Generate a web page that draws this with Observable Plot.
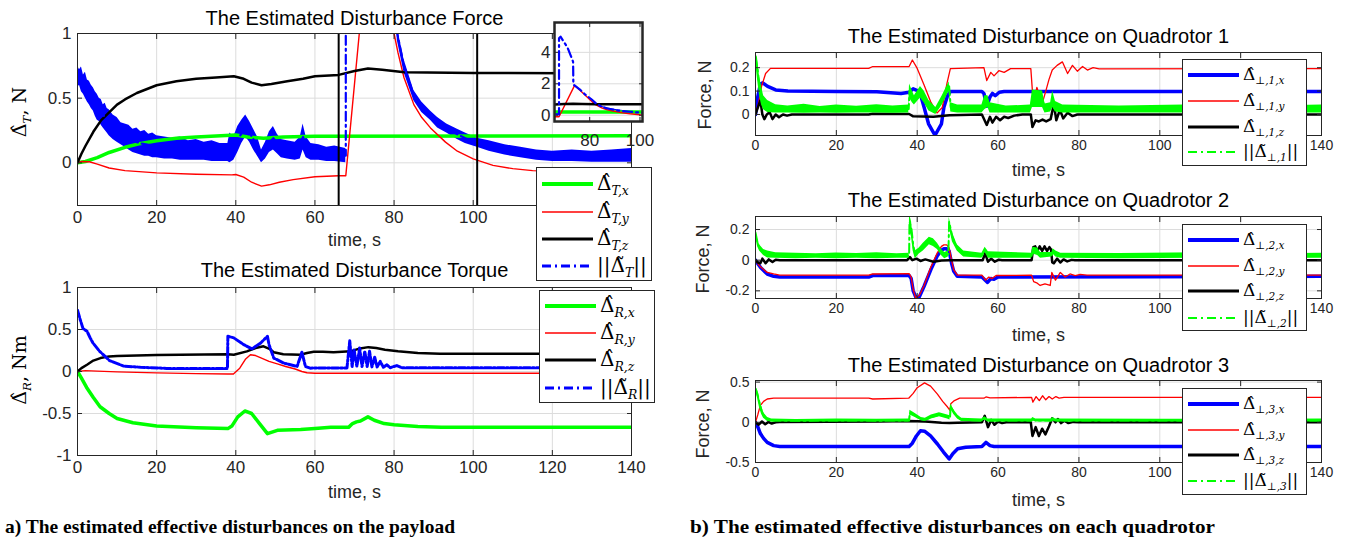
<!DOCTYPE html>
<html>
<head>
<meta charset="utf-8">
<script src="https://cdn.jsdelivr.net/npm/d3@7"></script>
<script src="https://cdn.jsdelivr.net/npm/@observablehq/plot@0.6"></script>
<style>
  body { margin: 0; background: #fff; }
  #fig { position: relative; width: 1352px; height: 544px; overflow: hidden; background: #fff; font-family: "Liberation Sans", Arial, sans-serif; }
  .panel { position: absolute; }
  .legend { position: absolute; background: #fff; border: 1px solid #262626; box-sizing: border-box; }
  .swatch { position: absolute; overflow: visible; }
  .math { position: absolute; font-family: "DejaVu Serif", "Liberation Serif", serif; white-space: nowrap; line-height: 1; transform: translateY(-50%); color: #000; }
  .math sub, .ylab sub { font-style: italic; font-size: 0.62em; vertical-align: -0.4em; }
  .ylab { position: absolute; white-space: nowrap; transform: translate(-50%, -50%) rotate(-90deg); color: #262626; line-height: 1; }
</style>
</head>
<body>
<div id="fig"></div>
<script>
// ---------- time axis ticks ----------
const timeTicks = [0, 20, 40, 60, 80, 100, 120, 140];

// ---------- (a) disturbance force on the payload, [t, value] ----------
const forceX = [[0,0],[2,0.01],[5,0.04],[8,0.08],[12,0.12],[16,0.15],[20,0.17],[25,0.19],[30,0.2],[40,0.215],[43,0.2],[47,0.19],[52,0.2],[60,0.205],[140,0.21]];
const forceY = [[0,0],[1,0.01],[3,0.008],[5,-0.01],[8,-0.04],[12,-0.06],[20,-0.078],[30,-0.088],[39,-0.093],[40,-0.09],[42,-0.11],[44,-0.15],[46.5,-0.18],[48.5,-0.17],[51,-0.15],[54.5,-0.13],[60,-0.108],[66,-0.1],[67.8,-0.1],[74,1.9],[76,1.6],[78,1.3],[80,1.0],[81,0.85],[82.5,0.66],[85,0.45],[87,0.35],[89.2,0.27],[93,0.16],[96,0.09],[100,0.03],[105,-0.02],[110,-0.045],[115,-0.06],[125,-0.07],[140,-0.07]];
const forceZ = [[0,0],[1,0.07],[2,0.13],[4,0.24],[6,0.33],[8,0.39],[10,0.45],[12,0.49],[15,0.54],[20,0.6],[25,0.63],[30,0.65],[35,0.66],[39.5,0.67],[42,0.65],[44,0.62],[46.5,0.6],[49,0.61],[53,0.63],[57,0.65],[60,0.67],[66,0.68],[70,0.71],[73.4,0.73],[77,0.72],[82.6,0.7],[100,0.695],[140,0.69]];
const forceNorm = [[0,0.66],[1,0.64],[2,0.6],[3,0.54],[4,0.49],[5,0.43],[6,0.39],[7,0.35],[8,0.31],[9,0.28],[10,0.25],[12,0.21],[14,0.17],[16,0.15],[18,0.14],[20,0.125],[24,0.11],[28,0.095],[32,0.09],[36,0.08],[38,0.08],[40.5,0.18],[42.5,0.28],[44.5,0.18],[46.5,0.05],[48.5,0.16],[49.5,0.19],[51.5,0.11],[55,0.09],[57,0.2],[59,0.085],[63,0.065],[67.8,0.055],[67.8,4.9],[68.4,5.0],[71.2,4.3],[73.4,3.4],[73.5,1.95],[76,1.65],[78,1.35],[80.8,1.0],[82.5,0.75],[85,0.52],[87,0.43],[89.2,0.365],[91,0.31],[93.3,0.265],[96,0.22],[98,0.19],[101,0.155],[104,0.13],[108,0.1],[112,0.08],[116,0.06],[120,0.05],[130,0.05],[140,0.055]];
// noisy envelope of the force error norm, [t, low, high]
const forceNormBand = [[0,0.58,0.75],[0.5,0.6,0.72],[1,0.55,0.74],[1.5,0.53,0.68],[2,0.5,0.7],[2.5,0.47,0.64],[3,0.45,0.63],[3.5,0.42,0.6],[4,0.4,0.58],[4.5,0.36,0.55],[5,0.33,0.53],[5.5,0.32,0.5],[6,0.29,0.49],[6.5,0.27,0.45],[7,0.25,0.46],[7.5,0.23,0.42],[8,0.21,0.41],[9,0.18,0.37],[10,0.16,0.35],[11,0.14,0.31],[12,0.12,0.3],[13,0.1,0.29],[14,0.08,0.26],[15,0.07,0.27],[16,0.06,0.24],[17,0.05,0.25],[18,0.05,0.22],[19,0.04,0.23],[20,0.04,0.21],[22,0.03,0.2],[24,0.03,0.19],[26,0.02,0.2],[28,0.02,0.17],[30,0.02,0.18],[32,0.02,0.16],[34,0.01,0.17],[36,0.01,0.15],[38,0.01,0.15],[38.5,0.0,0.23],[39.5,0.02,0.2],[40.5,0.08,0.28],[41.5,0.15,0.33],[42.5,0.2,0.37],[43.5,0.16,0.32],[44.5,0.1,0.26],[45.5,0.05,0.2],[46.5,0.0,0.1],[47.5,0.03,0.16],[48.5,0.08,0.24],[49.5,0.1,0.28],[50.5,0.07,0.22],[51.5,0.04,0.18],[53,0.03,0.17],[55,0.02,0.16],[56.3,0.03,0.2],[57,0.1,0.3],[57.8,0.04,0.2],[59,0.02,0.15],[61,0.02,0.14],[63,0.01,0.12],[65,0.01,0.13],[67.8,0.0,0.11]];
const forceNormBandLate = [[80.8,0.95,1.05],[82.5,0.7,0.8],[85,0.48,0.56],[87,0.39,0.47],[89.2,0.33,0.4],[91,0.27,0.35],[93.3,0.23,0.3],[96,0.18,0.26],[98,0.15,0.23],[101,0.12,0.19],[104,0.09,0.17],[108,0.06,0.14],[112,0.04,0.12],[116,0.02,0.1],[120,0.01,0.09],[125,0.01,0.1],[130,0.005,0.09],[135,0.005,0.1],[140,0.005,0.11]];
const forceTicks = [0, 0.5, 1];
const zoomWindow = [66, 101];
const zoomTicksX = [80, 100];
const zoomTicksY = [0, 2, 4];

// ---------- (a) disturbance torque on the payload ----------
const torqueX = [[0,0],[1,-0.08],[2.3,-0.19],[4,-0.31],[5.7,-0.42],[8,-0.5],[10,-0.56],[14,-0.61],[20,-0.65],[30,-0.67],[38,-0.68],[39,-0.65],[40.5,-0.54],[42.3,-0.47],[44,-0.5],[46,-0.62],[48,-0.74],[50.5,-0.7],[56.4,-0.69],[60,-0.68],[64,-0.665],[68.5,-0.665],[69.5,-0.62],[70.5,-0.6],[71.5,-0.59],[73.4,-0.54],[75,-0.58],[77.5,-0.62],[80,-0.635],[86,-0.655],[92,-0.665],[140,-0.665]];
const torqueY = [[0,0],[2,0.01],[5,0.005],[10,-0.005],[20,-0.016],[30,-0.025],[38,-0.03],[39.4,-0.03],[41,0.04],[42.5,0.15],[43.7,0.2],[45,0.19],[46.5,0.16],[48.4,0.12],[50.5,0.09],[52.6,0.06],[55,0.03],[56.7,0.0],[58,-0.015],[60,-0.02],[140,-0.02]];
const torqueZ = [[0,0],[1,0.04],[2.4,0.08],[4,0.13],[5.8,0.16],[8,0.18],[10,0.185],[20,0.195],[38,0.205],[39.5,0.2],[42.8,0.24],[45,0.28],[47,0.3],[48.5,0.27],[49.6,0.23],[52,0.205],[56.3,0.2],[58,0.22],[59.7,0.235],[62,0.235],[64.7,0.23],[69,0.24],[71,0.27],[73.5,0.29],[75.5,0.28],[77.7,0.26],[81,0.24],[86,0.22],[91.6,0.21],[140,0.21]];
const torqueNorm = [[0,0.73],[0.8,0.6],[1.4,0.51],[2.4,0.48],[3.2,0.4],[3.9,0.34],[5.6,0.24],[8.1,0.13],[11.6,0.065],[15.9,0.05],[22.6,0.037],[37.9,0.037],[38,0.42],[39.5,0.4],[42,0.32],[44.1,0.27],[46.3,0.34],[48,0.42],[48.4,0.32],[49.6,0.16],[52.1,0.1],[55.5,0.06],[56.7,0.23],[57.6,0.06],[58.8,0.04],[68.1,0.043],[68.8,0.365],[69.4,0.06],[69.9,0.26],[70.6,0.06],[71.3,0.28],[71.9,0.06],[72.6,0.24],[73.2,0.06],[73.8,0.24],[74.4,0.055],[75.1,0.17],[75.7,0.055],[76.5,0.12],[77.3,0.05],[78.2,0.08],[79,0.045],[80.7,0.07],[82,0.045],[140,0.045]];
const torqueTicks = [-1, -0.5, 0, 0.5, 1];

// ---------- (b) quadrotor 1 ----------
const q1X = [[0,0],[0.5,0.07],[1.2,0.13],[1.8,0.135],[3,0.12],[5,0.105],[8,0.1],[20,0.098],[30,0.097],[36,0.09],[38,0.095],[39,0.11],[40.3,0.1],[41,0.074],[41.7,0.031],[42.8,-0.04],[44.4,-0.089],[46,-0.04],[46.6,0.031],[47.5,0.08],[48.2,0.098],[56,0.098],[56.5,0.09],[57.2,0.035],[58,0.075],[58.6,0.09],[59.3,0.08],[60.3,0.095],[61.5,0.098],[140,0.098]];
const q1Y = [[0,0],[0.8,0.05],[1.5,0.12],[2.5,0.175],[3.7,0.197],[28,0.197],[29,0.205],[38,0.205],[38.8,0.233],[40,0.197],[41.7,0.126],[43.3,0.055],[44.9,0.006],[46.2,0.03],[47.4,0.136],[48.2,0.196],[56.5,0.2],[57.2,0.145],[58.2,0.18],[59,0.165],[60.2,0.187],[61.5,0.18],[63.1,0.196],[68.1,0.196],[68.7,0.05],[69.6,0.116],[70.3,0.08],[71,0.052],[71.8,0.1],[72.6,0.15],[73.4,0.19],[74.6,0.21],[75.9,0.225],[77.2,0.175],[78.4,0.21],[79.6,0.185],[80.9,0.205],[82.1,0.19],[83.5,0.2],[85,0.195],[140,0.196]];
const q1Z = [[0,0],[0.6,0.03],[1.2,0.06],[1.7,0.0],[2.2,-0.02],[2.8,0.0],[3.5,0.01],[4.2,-0.02],[5,0.0],[5.8,-0.012],[6.8,0.0],[7.8,-0.005],[9,0],[28,0],[29,0.003],[38,0.002],[39,-0.008],[44,-0.01],[48,-0.003],[56,0],[57.2,-0.045],[58,-0.01],[58.6,-0.035],[59.5,-0.01],[60.5,-0.025],[61.5,-0.01],[62.5,-0.015],[64,-0.005],[66,0],[68.1,0],[68.5,-0.054],[69.3,-0.025],[70.1,-0.03],[71,-0.022],[71.9,-0.03],[73,-0.02],[73.8,0.045],[74.4,-0.025],[75.3,0.02],[76.1,-0.017],[77.2,0.007],[78.4,-0.007],[79.6,0],[140,0]];
const q1NormBand = [[0,0.23,0.265],[0.5,0.15,0.24],[1,0.08,0.16],[1.5,0.04,0.12],[2,0.02,0.08],[3,0.008,0.06],[5,0.006,0.042],[8,0.006,0.036],[12,0.005,0.044],[16,0.006,0.034],[20,0.005,0.04],[25,0.006,0.035],[30,0.006,0.042],[34,0.005,0.036],[37.9,0.006,0.04],[38.1,0.07,0.13],[38.8,0.05,0.1],[39.3,0.04,0.08],[40.8,0.07,0.12],[41.7,0.05,0.1],[42.9,0.015,0.06],[44.6,0.0,0.03],[46.2,0.04,0.08],[47.9,0.1,0.14],[48.3,0.01,0.05],[50,0.006,0.04],[56,0.006,0.04],[56.7,0.02,0.08],[57.5,0.03,0.08],[58,0.006,0.05],[62,0.006,0.036],[68,0.006,0.04],[68.5,0.03,0.105],[71,0.03,0.1],[71.6,0.006,0.045],[73,0.01,0.05],[73.5,0.03,0.1],[74.2,0.01,0.055],[76,0.006,0.04],[90,0.006,0.036],[110,0.006,0.042],[125,0.005,0.035],[140,0.006,0.04]];
const q1Ticks = [0, 0.1, 0.2];

// ---------- (b) quadrotor 2 ----------
const q2X = [[0,0],[0.5,-0.02],[1.3,-0.05],[2.9,-0.09],[4.5,-0.105],[6,-0.11],[28,-0.11],[29,-0.1],[38,-0.1],[38.5,-0.12],[39,-0.2],[39.8,-0.25],[40.5,-0.24],[41.7,-0.17],[43.4,-0.06],[45,0.03],[46,0.065],[46.6,0.075],[47.3,0.075],[47.9,0.06],[48.5,-0.02],[49,-0.07],[49.9,-0.105],[56,-0.11],[57.4,-0.145],[58.2,-0.12],[59,-0.125],[60,-0.11],[140,-0.105]];
const q2Y = [[0,0],[0.5,-0.02],[1.3,-0.045],[2.9,-0.08],[4.5,-0.09],[6,-0.098],[28,-0.098],[29,-0.09],[38,-0.088],[38.5,-0.11],[39,-0.19],[39.6,-0.245],[40.5,-0.23],[41.7,-0.165],[43.3,-0.05],[45,0.05],[46,0.09],[46.6,0.1],[47.3,0.1],[47.9,0.08],[48.5,0.0],[49,-0.06],[49.9,-0.098],[56,-0.098],[56.9,-0.13],[57.7,-0.11],[58.5,-0.12],[59.5,-0.1],[68.3,-0.098],[68.8,-0.14],[69.7,-0.15],[70.4,-0.165],[71.6,-0.155],[72.9,-0.165],[73.3,-0.08],[74.2,-0.13],[75.4,-0.08],[76.6,-0.11],[77.8,-0.09],[79.1,-0.1],[80.3,-0.092],[82,-0.098],[140,-0.098]];
const q2Z = [[0,0],[0.6,-0.015],[1.2,-0.02],[1.7,0.01],[2.5,-0.02],[3.3,0.005],[4.2,-0.012],[5,0.003],[6,0],[37.5,0],[38.2,0.02],[38.8,0.0],[39.8,0.01],[40.8,-0.005],[42,0.005],[44,-0.01],[46,-0.002],[48,0],[56.2,0],[56.8,0.045],[57.5,-0.01],[58.3,0.01],[59.2,-0.01],[60.2,0.003],[61,0],[68.3,0],[68.7,0.085],[69.2,0.09],[69.7,0.06],[70.3,0.09],[70.9,0.06],[71.5,0.09],[72.1,0.06],[72.7,0.085],[73.1,0.07],[73.4,-0.015],[73.8,-0.02],[74.6,0.01],[75.4,-0.015],[76.2,0.005],[77.1,-0.008],[78.2,0.002],[79,0],[140,0]];
const q2NormBand = [[0,0.16,0.2],[0.5,0.09,0.14],[1,0.06,0.1],[2,0.03,0.07],[3,0.015,0.06],[5,0.012,0.048],[10,0.01,0.045],[15,0.012,0.042],[20,0.01,0.047],[25,0.012,0.043],[30,0.01,0.048],[35,0.012,0.042],[38,0.012,0.046],[38.1,0.2,0.3],[38.6,0.15,0.25],[39,0.06,0.14],[39.5,0.01,0.06],[40.5,0.04,0.08],[41.5,0.06,0.11],[43,0.1,0.15],[44,0.09,0.14],[45,0.07,0.11],[46,0.03,0.07],[46.8,0.01,0.05],[47.7,0.02,0.06],[47.9,0.22,0.28],[48.7,0.12,0.18],[49.9,0.06,0.1],[51.5,0.02,0.06],[56,0.012,0.046],[56.8,0.05,0.085],[57.6,0.012,0.055],[68.3,0.012,0.046],[68.6,0.04,0.085],[69.8,0.03,0.08],[70.5,0.012,0.05],[73.3,0.02,0.05],[73.6,0.04,0.075],[74.3,0.02,0.06],[75.5,0.012,0.046],[90,0.01,0.044],[110,0.012,0.048],[125,0.01,0.042],[140,0.012,0.046]];
const q2Ticks = [-0.2, 0, 0.2];

// ---------- (b) quadrotor 3 ----------
const q3X = [[0,0],[0.6,-0.06],[1.2,-0.14],[2,-0.2],[2.9,-0.25],[4.5,-0.29],[6,-0.3],[38,-0.3],[38.8,-0.26],[39.8,-0.17],[40.8,-0.105],[41.8,-0.11],[43.3,-0.17],[45,-0.27],[46.5,-0.37],[47.9,-0.455],[48.8,-0.39],[50,-0.33],[52,-0.31],[56,-0.3],[57,-0.25],[58,-0.29],[59,-0.3],[140,-0.3]];
const q3Y = [[0,0],[0.6,0.1],[1.2,0.21],[2,0.26],[2.9,0.29],[4.5,0.3],[28,0.3],[29,0.29],[37.9,0.3],[39,0.36],[40,0.43],[41.8,0.49],[43.3,0.45],[45,0.35],[46.3,0.26],[47.5,0.19],[48.1,0.15],[48.3,0.23],[49.2,0.27],[50.5,0.3],[56.5,0.3],[57,0.315],[58,0.305],[68.3,0.31],[68.6,0.25],[69.4,0.32],[70.2,0.27],[71,0.33],[71.8,0.28],[72.6,0.32],[73.4,0.29],[74.3,0.32],[75.1,0.3],[76.3,0.31],[140,0.31]];
const q3Z = [[0,0],[0.8,-0.03],[1.6,0.01],[2.4,-0.025],[3.2,0.005],[4,-0.015],[5,0.0],[6,0.005],[30,0.01],[38,0.015],[42,0.01],[46,-0.005],[48,-0.01],[50,-0.005],[56,0],[56.7,0.08],[57.5,-0.06],[58.3,0.03],[59.1,-0.03],[60,0.01],[61,-0.01],[62,0],[68.1,0],[68.5,-0.17],[69.3,-0.06],[70.1,-0.17],[70.9,-0.08],[71.7,-0.15],[72.6,-0.05],[73.4,0.05],[74.2,0.0],[74.8,0.04],[75.6,-0.01],[76.4,0.02],[77.4,-0.01],[78.6,0.005],[80,0],[140,0]];
const q3NormBand = [[0,0.4,0.44],[0.5,0.3,0.4],[1,0.18,0.3],[1.5,0.1,0.2],[2,0.05,0.12],[3,0.01,0.06],[4,0.004,0.04],[10,0.004,0.036],[20,0.005,0.04],[30,0.004,0.037],[38,0.004,0.04],[38.2,0.09,0.15],[39.5,0.06,0.11],[41,0.02,0.06],[42,0.01,0.05],[43.5,0.04,0.09],[45.5,0.07,0.12],[47.5,0.04,0.09],[48.1,0.03,0.08],[48.3,0.17,0.23],[49,0.1,0.16],[50,0.04,0.09],[51,0.01,0.05],[56,0.004,0.04],[56.7,0.03,0.07],[57.5,0.004,0.04],[68.3,0.004,0.04],[68.6,0.02,0.06],[69.3,0.004,0.04],[73.2,0.004,0.04],[73.5,0.02,0.06],[74.2,0.004,0.04],[100,0.005,0.038],[140,0.004,0.04]];
const q3Ticks = [-0.5, 0, 0.5];

// ---------- colours ----------
const GREEN = "#00ff00", RED = "#ff0000", BLACK = "#000000", BLUE = "#0000ff";
const DASHDOT = "9,4,2,4";

const toPts = a => a.map(([t, v]) => ({t, v}));
const toBand = a => a.map(([t, lo, hi]) => ({t, lo, hi}));
const mid = a => a.map(([t, lo, hi]) => ({t, v: (lo + hi) / 2}));

const fig = document.getElementById("fig");

// One MATLAB-style axes box: grid, data, frame, inward ticks on all four sides.
function panel(cfg) {
  const [fx0, fy0, fx1, fy1] = cfg.frame;
  const [L, T, W, H] = cfg.box;
  const tick = cfg.tickLen ?? 5;
  const marks = [];
  if (cfg.fillFrame) marks.push(Plot.frame({fill: "white"}));
  marks.push(Plot.gridX(cfg.xTicks, {stroke: "#dcdcdc", strokeOpacity: 1}));
  marks.push(Plot.gridY(cfg.yTicks, {stroke: "#dcdcdc", strokeOpacity: 1}));
  for (const b of cfg.bands ?? []) {
    marks.push(Plot.areaY(toBand(b.data), {x: "t", y1: "lo", y2: "hi", fill: b.color, clip: true}));
  }
  for (const s of cfg.lines) {
    marks.push(Plot.line(toPts(s.data), {x: "t", y: "v", stroke: s.color, strokeWidth: s.width, strokeDasharray: s.dash, strokeLinejoin: "round", clip: true}));
  }
  for (const e of cfg.extra ?? []) marks.push(e);
  marks.push(Plot.frame({stroke: "#262626", strokeWidth: cfg.frameWidth ?? 1}));
  const ax = {fontSize: cfg.tickFont, tickSize: -tick, label: null, stroke: "#262626"};
  const xFmt = cfg.xShown ? (d => cfg.xShown.includes(d) ? String(d) : "") : String;
  marks.push(Plot.axisX(cfg.xTicks, {...ax, anchor: "bottom", tickPadding: tick + cfg.padX, fill: "#262626", tickFormat: xFmt}));
  marks.push(Plot.axisX(cfg.xTicks, {...ax, anchor: "top", tickFormat: () => ""}));
  marks.push(Plot.axisY(cfg.yTicks, {...ax, anchor: "left", tickPadding: tick + cfg.padY, fill: "#262626", tickFormat: String}));
  marks.push(Plot.axisY(cfg.yTicks, {...ax, anchor: "right", tickFormat: () => ""}));
  if (cfg.title) marks.push(Plot.text([cfg.title], {text: d => d, frameAnchor: "top", lineAnchor: "middle", dy: cfg.titleY - fy0, fontSize: cfg.titleFont, fill: "#000"}));
  if (cfg.xlabel) marks.push(Plot.text([cfg.xlabel], {text: d => d, frameAnchor: "bottom", lineAnchor: "middle", dy: cfg.xlabelY - fy1, fontSize: cfg.labelFont, fill: "#262626"}));
  const svg = Plot.plot({
    width: W, height: H,
    marginLeft: fx0 - L, marginTop: fy0 - T, marginRight: L + W - fx1, marginBottom: T + H - fy1,
    x: {domain: cfg.xDomain},
    y: {domain: cfg.yDomain},
    style: {fontFamily: '"Liberation Sans", Arial, sans-serif', background: "transparent", overflow: "visible"},
    marks
  });
  svg.classList.add("panel");
  svg.style.left = L + "px";
  svg.style.top = T + "px";
  fig.appendChild(svg);
}

// Payload force series, shared by the main axes and the magnified window.
const forceLines = [
  {data: forceX, color: GREEN, width: 3.5},
  {data: forceY, color: RED, width: 1.4},
  {data: forceZ, color: BLACK, width: 2.5},
  {data: forceNorm, color: BLUE, width: 2.2, dash: DASHDOT}
];
const forceBands = [{data: forceNormBand, color: BLUE}, {data: forceNormBandLate, color: BLUE}];

panel({
  box: [0, 0, 660, 256], frame: [77, 33, 631, 205],
  xDomain: [0, 140], yDomain: [-0.33, 1], xTicks: timeTicks, yTicks: forceTicks, xShown: [0, 20, 40, 60, 80, 100],
  tickFont: 17, padX: 5, padY: 6,
  lines: forceLines, bands: forceBands,
  extra: [Plot.ruleX(zoomWindow, {stroke: "#000", strokeWidth: 2})],
  title: "The Estimated Disturbance Force", titleY: 18, titleFont: 20,
  xlabel: "time, s", xlabelY: 240, labelFont: 18
});

// magnified window over the spike
panel({
  box: [520, 0, 140, 160], frame: [554, 22, 642, 121],
  xDomain: zoomWindow, yDomain: [-0.4, 5.9], xTicks: zoomTicksX, yTicks: zoomTicksY,
  tickFont: 17, padX: 12, padY: 4, fillFrame: true, frameWidth: 2.5, tickLen: 4,
  lines: forceLines, bands: forceBands
});

panel({
  box: [0, 258, 660, 250], frame: [77, 287, 631, 455],
  xDomain: [0, 140], yDomain: [-1, 1], xTicks: timeTicks, yTicks: torqueTicks,
  tickFont: 17, padX: 5, padY: 6,
  lines: [
    {data: torqueX, color: GREEN, width: 3.5},
    {data: torqueY, color: RED, width: 1.4},
    {data: torqueZ, color: BLACK, width: 2.5},
    {data: torqueNorm, color: BLUE, width: 3, dash: "7,2,2,2"}
  ],
  title: "The Estimated Disturbance Torque", titleY: 270, titleFont: 20,
  xlabel: "time, s", xlabelY: 492, labelFont: 18
});

const quad = [
  {n: 1, box: [680, 18, 672, 164], frame: [755, 52, 1321, 135], y: [-0.09, 0.265], ticks: q1Ticks, X: q1X, Y: q1Y, Z: q1Z, N: q1NormBand, titleY: 36, xlabelY: 170},
  {n: 2, box: [680, 182, 672, 164], frame: [755, 216, 1321, 298], y: [-0.25, 0.285], ticks: q2Ticks, X: q2X, Y: q2Y, Z: q2Z, N: q2NormBand, titleY: 200, xlabelY: 335},
  {n: 3, box: [680, 346, 672, 166], frame: [755, 380, 1321, 462], y: [-0.5, 0.52], ticks: q3Ticks, X: q3X, Y: q3Y, Z: q3Z, N: q3NormBand, titleY: 365, xlabelY: 500}
];
for (const q of quad) {
  panel({
    box: q.box, frame: q.frame,
    xDomain: [0, 140], yDomain: q.y, xTicks: timeTicks, yTicks: q.ticks, xShown: [0, 20, 40, 60, 80, 100, 140],
    tickFont: 14, padX: 5, padY: 6,
    lines: [
      {data: q.X, color: BLUE, width: 3.5},
      {data: q.Y, color: RED, width: 1.3},
      {data: q.Z, color: BLACK, width: 2.5}
    ],
    extra: [
      Plot.areaY(toBand(q.N), {x: "t", y1: "lo", y2: "hi", fill: GREEN, clip: true}),
      Plot.line(mid(q.N), {x: "t", y: "v", stroke: GREEN, strokeWidth: 2, strokeDasharray: DASHDOT, clip: true})
    ],
    title: `The Estimated Disturbance on Quadrotor ${q.n}`, titleY: q.titleY, titleFont: 20,
    xlabel: "time, s", xlabelY: q.xlabelY, labelFont: 18
  });
}

// ---------- text helpers ----------
const hatD = sub => `Δ\u0302<sub>${sub}</sub>`;
const normD = sub => `||Δ\u0303<sub>${sub}</sub>||`;

function yLabel(html, cx, cy, css) {
  const d = document.createElement("div");
  d.className = "ylab";
  d.innerHTML = html;
  d.style.left = cx + "px";
  d.style.top = cy + "px";
  Object.assign(d.style, css);
  fig.appendChild(d);
}
const serifLab = {fontFamily: '"DejaVu Serif", "Liberation Serif", serif', fontSize: "19px", color: "#000"};
yLabel(`${hatD("T")}, N`, 22, 112, serifLab);
yLabel(`${hatD("R")}, Nm`, 22, 370, serifLab);
for (const [cx, cy] of [[705, 95], [703, 259], [703, 424]]) yLabel("Force, N", cx, cy, {fontSize: "18px"});

// ---------- legends ----------
function legend(box, rows, entries, font) {
  const [L, T, W, H] = box;
  const d = document.createElement("div");
  d.className = "legend";
  Object.assign(d.style, {left: L + "px", top: T + "px", width: W + "px", height: H + "px"});
  entries.forEach((e, i) => {
    const y = rows[i];
    const s = document.createElementNS("http://www.w3.org/2000/svg", "svg");
    s.setAttribute("class", "swatch");
    s.setAttribute("width", 60); s.setAttribute("height", 10);
    s.style.left = "0px"; s.style.top = (y - 5) + "px";
    s.innerHTML = `<line x1="5" x2="56" y1="5" y2="5" stroke="${e.color}" stroke-width="${e.width}" ${e.dash ? `stroke-dasharray="${e.dash}"` : ""}/>`;
    d.appendChild(s);
    const m = document.createElement("div");
    m.className = "math";
    m.style.left = "60px"; m.style.top = (y + 1) + "px";
    m.style.fontSize = font + "px";
    m.innerHTML = e.html;
    d.appendChild(m);
  });
  fig.appendChild(d);
}
legend([536, 167, 116, 114], [16, 44, 71, 98], [
  {html: hatD("T,x"), color: GREEN, width: 4},
  {html: hatD("T,y"), color: RED, width: 1.5},
  {html: hatD("T,z"), color: BLACK, width: 3},
  {html: normD("T"), color: BLUE, width: 3, dash: DASHDOT}
], 20);
legend([539, 290, 116, 113], [15, 42, 69, 97], [
  {html: hatD("R,x"), color: GREEN, width: 4},
  {html: hatD("R,y"), color: RED, width: 1.5},
  {html: hatD("R,z"), color: BLACK, width: 3},
  {html: normD("R"), color: BLUE, width: 3, dash: DASHDOT}
], 20);
for (const [n, top, rows] of [[1, 59, [15, 41, 67, 92]], [2, 224, [15, 41, 66, 93]], [3, 388, [15, 41, 66, 92]]]) {
  legend([1182, top, 125, 107], rows, [
    {html: hatD(`⊥,${n},x`), color: BLUE, width: 4},
    {html: hatD(`⊥,${n},y`), color: RED, width: 1.5},
    {html: hatD(`⊥,${n},z`), color: BLACK, width: 3},
    {html: normD(`⊥,${n}`), color: GREEN, width: 2, dash: DASHDOT}
  ], 17);
}

// ---------- sub-figure captions ----------
const capSvg = d3.select(fig).append("svg")
  .attr("width", 1352).attr("height", 40)
  .style("position", "absolute").style("left", "0px").style("top", "508px");
const captions = [
  ["a) The estimated effective disturbances on the payload", 5, 450],
  ["b) The estimated effective disturbances on each quadrotor", 690, 525]
];
capSvg.selectAll("text").data(captions).join("text")
  .attr("x", d => d[1]).attr("y", 25)
  .attr("textLength", d => d[2]).attr("lengthAdjust", "spacingAndGlyphs")
  .style("font-family", '"Liberation Serif", "Times New Roman", serif')
  .style("font-weight", "bold").style("font-size", "19.5px")
  .text(d => d[0]);
</script>
</body>
</html>
